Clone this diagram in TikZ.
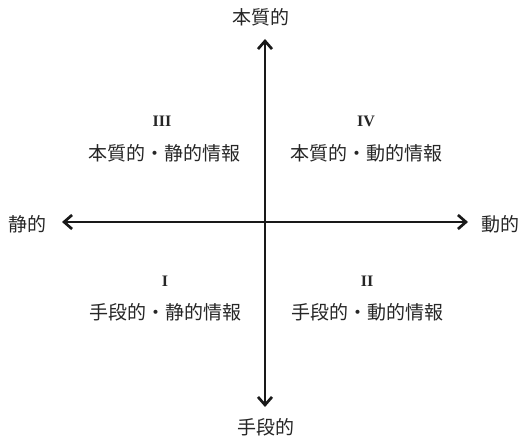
\documentclass[tikz,border=0pt]{standalone}
\usepackage{fontspec}
\setmainfont{Liberation Serif}
\newfontfamily\jpfont{Noto Sans CJK JP}
\usetikzlibrary{arrows.meta}
\begin{document}
\begin{tikzpicture}[x=1pt,y=-1pt,
  axis/.style={line width=2.7pt,-{Straight Barb[length=8pt,width=14pt,line width=2.7pt]},black!90},
  jp/.style={font=\jpfont\fontsize{19}{22}\selectfont,text=black!85,inner sep=0pt},
  num/.style={font=\bfseries\fontsize{16}{20}\selectfont,text=black!85,inner sep=0pt}]
\useasboundingbox (0,0) rectangle (521,438);
\coordinate (c) at (265,222);
\coordinate (top) at (265,39);
\coordinate (bot) at (265,407);
\coordinate (left) at (62,222);
\coordinate (right) at (468,222);
\draw[axis] (c) -- (top);
\draw[axis] (c) -- (bot);
\draw[axis] (c) -- (left);
\draw[axis] (c) -- (right);
\node[jp] (lt) at (261,17) {本質的};
\node[jp] (lb) at (266,427) {手段的};
\node[jp] (ll) at (28,224) {静的};
\node[jp,anchor=west] (lr) at (481,224) {動的};
\node[num] (n3) at (162,121) {III};
\node[jp] (q3) at (164,153) {本質的・静的情報};
\node[num] (n4) at (366,121) {IV};
\node[jp] (q4) at (366,153) {本質的・動的情報};
\node[num] (n1) at (165,281) {I};
\node[jp] (q1) at (165,312) {手段的・静的情報};
\node[num] (n2) at (367,281) {II};
\node[jp] (q2) at (367,312) {手段的・動的情報};
\end{tikzpicture}
\end{document}
